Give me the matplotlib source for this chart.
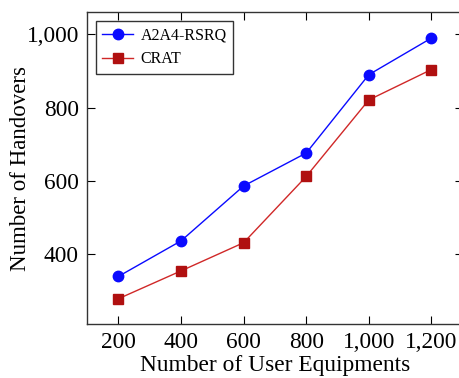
import matplotlib.pyplot as plt
from matplotlib.ticker import FuncFormatter

plt.rcParams['font.family'] = ['Liberation Serif', 'DejaVu Serif']

ues = [200, 400, 600, 800, 1000, 1200]
a2a4 = [339, 436, 586, 676, 890, 990]
crat = [278, 354, 431, 612, 821, 904]

fig = plt.figure(figsize=(4.59, 3.78), dpi=100)
ax = fig.add_axes([0.19, 0.143, 0.818, 0.825])

ax.plot(ues, a2a4, '-o', color='#0a0aff', linewidth=1.0, markersize=7.5, label='A2A4-RSRQ')
ax.plot(ues, crat, '-s', color='#d02828', markerfacecolor='#b01010', markeredgecolor='#b01010',
        linewidth=1.0, markersize=7, label='CRAT')

ax.set_xlim(100, 1300)
ax.set_ylim(209, 1061)
ax.set_xticks(ues)
ax.set_yticks([400, 600, 800, 1000])
fmt = FuncFormatter(lambda v, p: f'{int(v):,}')
ax.xaxis.set_major_formatter(fmt)
ax.yaxis.set_major_formatter(fmt)
ax.tick_params(direction='in', length=6, width=0.8, top=True, right=True, labelsize=16.8, pad=6)
for s in ax.spines.values():
    s.set_linewidth(1.0)
    s.set_color('#333333')

ax.set_xlabel('Number of User Equipments', fontsize=16.8, labelpad=1)
ax.set_ylabel('Number of Handovers', fontsize=16.5, labelpad=-3)

leg = ax.legend(loc='upper left', fontsize=11.5, fancybox=False, edgecolor='black',
                borderaxespad=0.55, handlelength=1.9, handletextpad=0.5,
                borderpad=0.4, labelspacing=0.5)
leg.get_frame().set_linewidth(1.0)

fig.savefig('out.png', dpi=100)
